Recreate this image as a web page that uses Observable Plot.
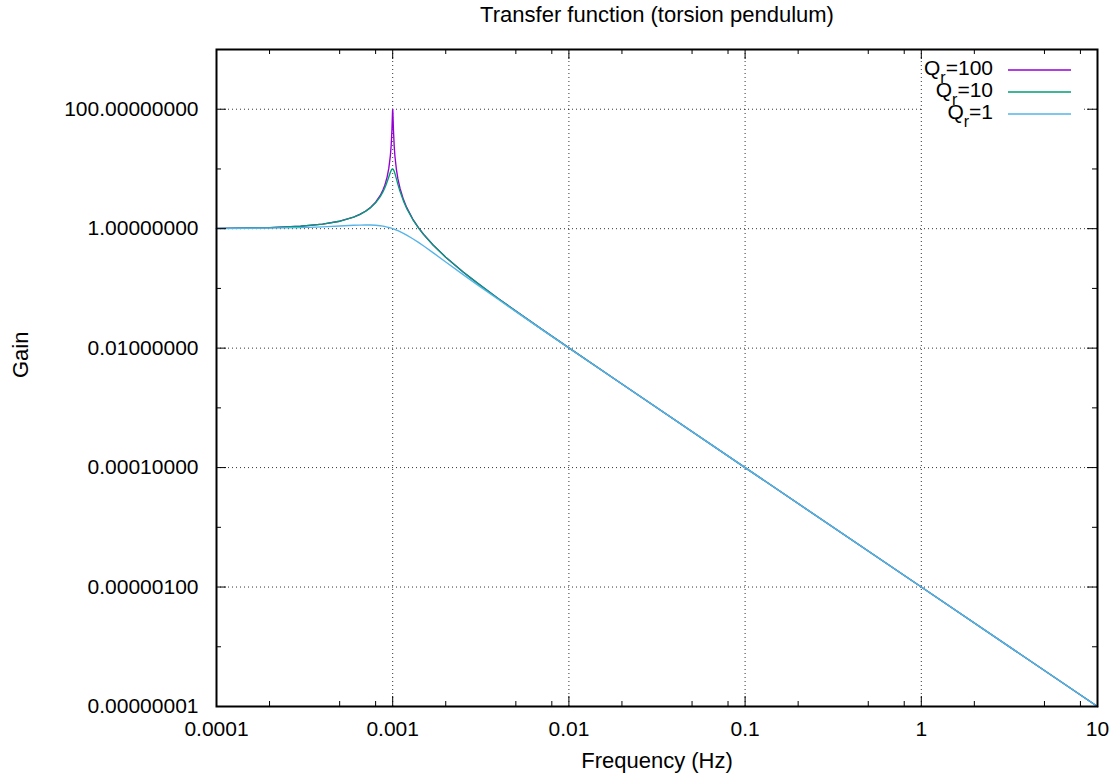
<!DOCTYPE html>
<html>
<head>
<meta charset="utf-8">
<script src="https://cdn.jsdelivr.net/npm/d3@7"></script>
<script src="https://cdn.jsdelivr.net/npm/@observablehq/plot@0.6"></script>
<style>
  html, body { margin: 0; padding: 0; background: #fff; }
  #wrap { position: relative; width: 1120px; height: 780px; font-family: "Liberation Sans", Arial, sans-serif; }
  #legend { position: absolute; left: 0; top: 0; pointer-events: none; }
</style>
</head>
<body>
<div id="wrap"></div>
<script>
// ---- data ----
const titleText = "Transfer function (torsion pendulum)";
const xLabel = "Frequency (Hz)";
const yLabel = "Gain";

const freq = [0.0001, 0.0002, 0.0003, 0.0004, 0.0005, 0.0006, 0.00065, 0.0007, 0.00075, 0.0008, 0.00085, 0.00088, 0.0009, 0.00091, 0.00093, 0.00095, 0.00097, 0.00098, 0.00099, 0.000995, 0.000998, 0.001, 0.001002, 0.001005, 0.00101, 0.00102, 0.00103, 0.00105, 0.00107, 0.0011, 0.00115, 0.0012, 0.0013, 0.0014, 0.0015, 0.0017, 0.002, 0.0025, 0.003, 0.004, 0.005, 0.007, 0.01, 0.02, 0.1, 1, 10];

const gainQ100 = [1.0101, 1.0417, 1.0989, 1.1905, 1.3333, 1.5625, 1.7316, 1.9608, 2.2856, 2.7771, 3.6019, 4.4293, 5.257, 5.8092, 7.384, 10.21, 16.70, 24.51, 44.99, 70.98, 93.0, 100, 92.7, 70.45, 44.45, 24.0, 16.19, 9.706, 6.883, 4.755, 3.0989, 2.2719, 1.4491, 1.0416, 0.79994, 0.52909, 0.33333, 0.19048, 0.125, 0.066667, 0.041667, 0.020833, 0.010101, 0.0025063, 0.00010001, 1.0e-6, 1.0e-8];

const gainQ10 = [1.01005, 1.0414, 1.0983, 1.1891, 1.3304, 1.5557, 1.7207, 1.9426, 2.2529, 2.7116, 3.4456, 4.1296, 4.7565, 5.1413, 6.097, 7.346, 8.804, 9.461, 9.903, 10.0, 10.012, 10.0, 9.972, 9.901, 9.711, 9.115, 8.357, 6.815, 5.552, 4.218, 2.9206, 2.1926, 1.4242, 1.0308, 0.7943, 0.52697, 0.33259, 0.19026, 0.12491, 0.066643, 0.041658, 0.020831, 0.0101005, 0.0025062, 0.00010001, 1.0e-6, 1.0e-8];

const gainQ1 = [1.005, 1.0198, 1.0436, 1.0748, 1.1094, 1.1399, 1.1501, 1.1546, 1.1517, 1.1399, 1.1184, 1.1008, 1.0872, 1.0798, 1.0641, 1.0471, 1.0290, 1.0196, 1.0099, 1.0050, 1.0020, 1.0, 0.9980, 0.9950, 0.9899, 0.9796, 0.9692, 0.9479, 0.9261, 0.8930, 0.8373, 0.7824, 0.6795, 0.5891, 0.5121, 0.3934, 0.27735, 0.17197, 0.11704, 0.064416, 0.040791, 0.020615, 0.0100498, 0.0025031, 0.0001, 1.0e-6, 1.0e-8];

const seriesNames = ["Q_r=100", "Q_r=10", "Q_r=1"];
const seriesSub = [["Q", "r", "=100"], ["Q", "r", "=10"], ["Q", "r", "=1"]];
const seriesColors = ["#9400d3", "#009e73", "#56b4e9"];
const seriesGains = [gainQ100, gainQ10, gainQ1];

const xMajorTicks = [0.0001, 0.001, 0.01, 0.1, 1, 10];
const xTickLabels = ["0.0001", "0.001", "0.01", "0.1", "1", "10"];
const xMinorTicks = [0.0002, 0.0005, 0.0008, 0.002, 0.005, 0.008, 0.02, 0.05, 0.08, 0.2, 0.5, 0.8, 2, 5, 8];
const yMajorTicks = [1e-8, 1e-6, 1e-4, 1e-2, 1, 100];
const yTickLabels = ["0.00000001", "0.00000100", "0.00010000", "0.01000000", "1.00000000", "100.00000000"];
const yMinorTicks = [1e-7, 1e-5, 1e-3, 1e-1, 10];

// ---- layout ----
const W = 1120, H = 780;
const mL = 216, mR = 23, mT = 49, mB = 74;
const fw = W - mL - mR, fh = H - mT - mB;
const FONT = "21px";
const LABELFONT = "22px";

const rows = [];
seriesNames.forEach((name, i) => {
  freq.forEach((f, j) => rows.push({freq: f, gain: seriesGains[i][j], series: name}));
});

const gridStyle = {stroke: "#000", strokeOpacity: 0.8, strokeDasharray: "1,3", strokeWidth: 1};

const chart = Plot.plot({
  width: W, height: H,
  marginLeft: mL, marginRight: mR, marginTop: mT, marginBottom: mB,
  style: {fontFamily: "'Liberation Sans', Arial, sans-serif", fontSize: FONT, background: "#fff", color: "#000"},
  x: {type: "log", domain: [1e-4, 10]},
  y: {type: "log", domain: [1e-8, 1e3]},
  color: {domain: seriesNames, range: seriesColors},
  marks: [
    // grid
    Plot.ruleX(xMajorTicks, {x: d => d, ...gridStyle}),
    Plot.ruleY(yMajorTicks, {y: d => d, ...gridStyle}),
    // curves
    Plot.line(rows, {x: "freq", y: "gain", z: "series", stroke: "series", strokeWidth: 1.35}),
    // tick marks (inward, mirrored)
    Plot.ruleX(xMajorTicks, {x: d => d, insetTop: fh - 10, stroke: "#000"}),
    Plot.ruleX(xMajorTicks, {x: d => d, insetBottom: fh - 10, stroke: "#000"}),
    Plot.ruleX(xMinorTicks, {x: d => d, insetTop: fh - 5, stroke: "#000"}),
    Plot.ruleX(xMinorTicks, {x: d => d, insetBottom: fh - 5, stroke: "#000"}),
    Plot.ruleY(yMajorTicks, {y: d => d, insetRight: fw - 10, stroke: "#000"}),
    Plot.ruleY(yMajorTicks, {y: d => d, insetLeft: fw - 10, stroke: "#000"}),
    Plot.ruleY(yMinorTicks, {y: d => d, insetRight: fw - 5, stroke: "#000"}),
    Plot.ruleY(yMinorTicks, {y: d => d, insetLeft: fw - 5, stroke: "#000"}),
    // axes labels
    Plot.axisX({ticks: xMajorTicks, tickFormat: d => xTickLabels[xMajorTicks.indexOf(d)], tickSize: 0, tickPadding: 15, label: null, fontSize: FONT}),
    Plot.axisY({ticks: yMajorTicks, tickFormat: d => yTickLabels[yMajorTicks.indexOf(d)], tickSize: 0, tickPadding: 18, label: null, fontSize: FONT}),
    // frame
    Plot.frame({stroke: "#000", strokeWidth: 2}),
    // titles
    Plot.text([titleText], {text: d => d, frameAnchor: "top", dy: -28, lineAnchor: "bottom", fontSize: LABELFONT}),
    Plot.text([xLabel], {text: d => d, frameAnchor: "bottom", dy: 61, lineAnchor: "bottom", fontSize: LABELFONT}),
    Plot.text([yLabel], {text: d => d, frameAnchor: "left", dx: -196, rotate: -90, lineAnchor: "middle", fontSize: LABELFONT})
  ]
});

const wrap = document.getElementById("wrap");
wrap.appendChild(chart);

// ---- key (legend) inside the plot, top right ----
const ns = "http://www.w3.org/2000/svg";
const leg = document.createElementNS(ns, "svg");
leg.setAttribute("id", "legend");
leg.setAttribute("width", W);
leg.setAttribute("height", H);
const bg = document.createElementNS(ns, "rect");
bg.setAttribute("x", 922); bg.setAttribute("y", 58); bg.setAttribute("width", 162); bg.setAttribute("height", 67);
bg.setAttribute("fill", "#fff");
leg.appendChild(bg);
seriesNames.forEach((name, i) => {
  const cy = 70 + i * 22;
  const t = document.createElementNS(ns, "text");
  t.setAttribute("x", 993);
  t.setAttribute("y", cy + 5);
  t.setAttribute("text-anchor", "end");
  t.setAttribute("font-family", "'Liberation Sans', Arial, sans-serif");
  t.setAttribute("font-size", "21");
  const [a, sub, b] = seriesSub[i];
  const s1 = document.createElementNS(ns, "tspan"); s1.textContent = a;
  const s2 = document.createElementNS(ns, "tspan"); s2.textContent = sub; s2.setAttribute("dy", "8"); s2.setAttribute("font-size", "16");
  const s3 = document.createElementNS(ns, "tspan"); s3.textContent = b; s3.setAttribute("dy", "-8");
  t.append(s1, s2, s3);
  leg.appendChild(t);
  const ln = document.createElementNS(ns, "line");
  ln.setAttribute("x1", 1008); ln.setAttribute("x2", 1071);
  ln.setAttribute("y1", cy); ln.setAttribute("y2", cy);
  ln.setAttribute("stroke", seriesColors[i]); ln.setAttribute("stroke-width", 1.5);
  leg.appendChild(ln);
});
wrap.appendChild(leg);
</script>
</body>
</html>
